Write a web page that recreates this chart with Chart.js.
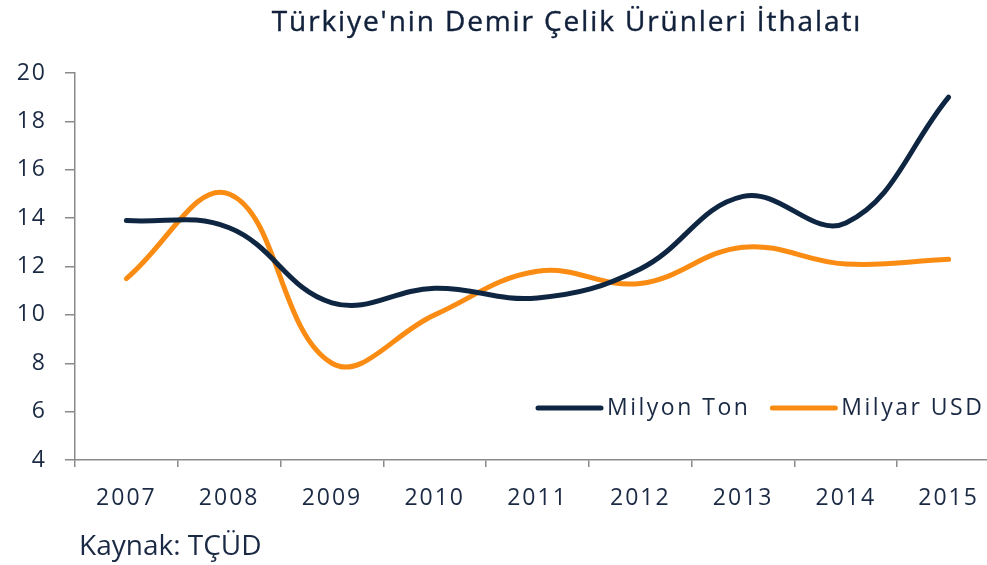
<!DOCTYPE html>
<html>
<head>
<meta charset="utf-8">
<script src="https://cdn.jsdelivr.net/npm/chart.js@4.4.1/dist/chart.umd.min.js"></script>
<style>
  html, body { margin: 0; padding: 0; background: #fff; overflow: hidden; width: 987px; height: 565px; }
  #wrap { position: relative; width: 987px; height: 565px; overflow: hidden; }
  canvas { position: absolute; left: 0; top: 0; }
  .title { position: absolute; left: 567px; top: 6px; transform: translateX(-50%); white-space: nowrap;
           font-family: "Open Sans", sans-serif; font-size: 28px; line-height: 28px; color: #11213b;
           letter-spacing: 1.9px; -webkit-text-stroke: 0.4px #11213b; }
  .source { position: absolute; left: 79px; top: 530px; white-space: nowrap;
            font-family: "Open Sans", sans-serif; font-size: 28px; line-height: 28px; color: #1b2a44; }
</style>
</head>
<body>
<div id="wrap">
  <canvas id="myChart" width="1000" height="565"></canvas>
  <div class="title">Türkiye'nin Demir Çelik Ürünleri İthalatı</div>
  <div class="source">Kaynak: TÇÜD</div>
</div>
<script>
// data
const years = ['2007', '2008', '2009', '2010', '2011', '2012', '2013', '2014', '2015'];
const milyonTon = [13.9, 13.6, 10.5, 11.1, 10.7, 11.9, 14.9, 13.8, 19.0];
const milyarUsd = [11.5, 15.0, 8.0, 10.0, 11.8, 11.3, 12.8, 12.1, 12.3];

const textColor = '#1b2a44';
const axisColor = '#8a8a8a';

// legend drawn inside the plot, bottom right
const inlineLegend = {
  id: 'inlineLegend',
  afterDatasetsDraw(chart) {
    const ctx = chart.ctx;
    ctx.save();
    ctx.font = '23px "Open Sans"';
    ctx.letterSpacing = '2.5px';
    ctx.textBaseline = 'middle';
    ctx.textAlign = 'left';
    let x = 538;
    const y = 408;
    chart.data.datasets.forEach(ds => {
      ctx.strokeStyle = ds.borderColor;
      ctx.lineWidth = 5;
      ctx.lineCap = 'round';
      ctx.beginPath();
      ctx.moveTo(x, y);
      ctx.lineTo(x + 63, y);
      ctx.stroke();
      ctx.fillStyle = textColor;
      ctx.fillText(ds.label, x + 69, y);
      x += 69 + ctx.measureText(ds.label).width + 22;
    });
    ctx.restore();
  }
};

const spacing = {
  id: 'spacing',
  beforeDraw(chart) { chart.ctx.letterSpacing = '2px'; }
};

new Chart(document.getElementById('myChart').getContext('2d'), {
  type: 'line',
  data: {
    labels: years,
    datasets: [
      { label: 'Milyon Ton', data: milyonTon, borderColor: '#0f2642', backgroundColor: '#0f2642',
        borderWidth: 5, pointRadius: 0, tension: 0.4, borderCapStyle: 'round' },
      { label: 'Milyar USD', data: milyarUsd, borderColor: '#fb8c13', backgroundColor: '#fb8c13',
        borderWidth: 5, pointRadius: 0, tension: 0.4, borderCapStyle: 'round' }
    ]
  },
  options: {
    responsive: false,
    animation: false,
    devicePixelRatio: 1,
    layout: { padding: { top: 73, left: 0, right: 0, bottom: 0 } },
    plugins: { legend: { display: false }, title: { display: false }, tooltip: { enabled: false } },
    scales: {
      x: {
        offset: true,
        grid: { offset: true, drawOnChartArea: false, drawTicks: true, tickLength: 7, color: axisColor, lineWidth: 1.5 },
        border: { color: axisColor, width: 1.5 },
        ticks: { color: textColor, font: { family: 'Open Sans', size: 23 }, padding: 18, maxRotation: 0 },
        afterFit(scale) { scale.height = 105; }
      },
      y: {
        min: 4, max: 20,
        ticks: { stepSize: 2, color: textColor, font: { family: 'Open Sans', size: 23 }, padding: 18 },
        grid: { drawOnChartArea: false, drawTicks: true, tickLength: 10, color: axisColor, lineWidth: 1.5 },
        border: { color: axisColor, width: 1.5 },
        afterFit(scale) { scale.width = 75; }
      }
    }
  },
  plugins: [spacing, inlineLegend]
});
</script>
</body>
</html>
